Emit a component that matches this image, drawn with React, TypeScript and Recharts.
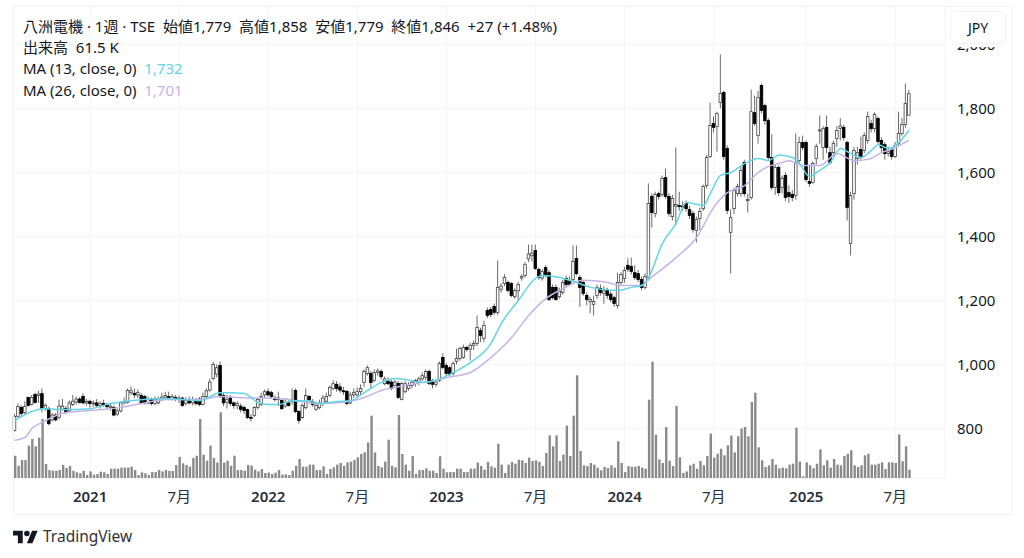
import { Bar, CartesianGrid, ComposedChart, Line, XAxis, YAxis } from "recharts"

const opens = [
  794, 838, 866, 850, 897, 875, 906, 903, 909, 862,
  862, 827, 842, 835, 860, 862, 855, 875, 883, 892,
  900, 880, 885, 878, 880, 872, 878, 873, 866, 866,
  845, 855, 880, 881, 912, 910, 905, 903, 900, 880,
  890, 878, 880, 892, 898, 900, 895, 897, 892, 895,
  878, 890, 880, 888, 892, 875, 900, 920, 956, 970,
  997, 903, 882, 897, 880, 872, 870, 866, 859, 835,
  841, 866, 875, 905, 915, 912, 895, 895, 888, 870,
  880, 885, 919, 853, 834, 865, 900, 885, 860, 865,
  878, 885, 903, 925, 938, 930, 918, 916, 880, 905,
  905, 915, 944, 972, 972, 950, 975, 978, 940, 948,
  945, 935, 941, 891, 915, 925, 935, 940, 945, 955,
  960, 978, 950, 938, 950, 1022, 997, 990, 972, 1010,
  1019, 1022, 1053, 1048, 1060, 1066, 1106, 1081, 1169, 1172,
  1181, 1163, 1235, 1253, 1256, 1253, 1212, 1230, 1270, 1278,
  1330, 1340, 1356, 1297, 1270, 1303, 1287, 1241, 1241, 1212,
  1225, 1269, 1262, 1266, 1331, 1272, 1256, 1216, 1197, 1188,
  1216, 1238, 1222, 1232, 1220, 1209, 1184, 1256, 1269, 1310,
  1306, 1287, 1284, 1266, 1241, 1269, 1525, 1472, 1534, 1531,
  1584, 1525, 1462, 1495, 1497, 1495, 1503, 1484, 1472, 1419,
  1456, 1487, 1559, 1650, 1753, 1744, 1819, 1850, 1675, 1413,
  1487, 1534, 1534, 1631, 1512, 1522, 1787, 1716, 1872, 1809,
  1762, 1647, 1553, 1616, 1553, 1591, 1537, 1531, 1528, 1637,
  1694, 1694, 1572, 1569, 1644, 1730, 1678, 1741, 1662, 1662,
  1706, 1738, 1741, 1694, 1378, 1534, 1644, 1672, 1669, 1700,
  1753, 1737, 1769, 1700, 1687, 1659, 1672, 1650, 1691, 1722,
  1750, 1779,
]
const closes = [
  838, 869, 847, 869, 872, 897, 881, 908, 862, 872,
  815, 842, 827, 870, 870, 850, 880, 885, 892, 881,
  880, 885, 878, 880, 872, 878, 873, 868, 870, 842,
  855, 880, 885, 919, 918, 905, 912, 878, 880, 890,
  878, 890, 892, 898, 903, 895, 900, 892, 895, 872,
  888, 880, 890, 878, 875, 900, 918, 945, 1000, 990,
  903, 880, 890, 878, 872, 878, 860, 856, 834, 832,
  866, 891, 900, 915, 905, 900, 890, 893, 862, 882,
  872, 890, 853, 825, 872, 903, 888, 875, 872, 880,
  895, 900, 928, 940, 925, 920, 915, 878, 905, 912,
  915, 925, 978, 990, 944, 975, 980, 962, 955, 940,
  925, 945, 897, 941, 940, 935, 945, 950, 955, 965,
  978, 941, 938, 945, 1003, 991, 972, 970, 1003, 1019,
  1050, 1053, 1047, 1060, 1066, 1116, 1091, 1122, 1153, 1156,
  1163, 1241, 1245, 1272, 1231, 1216, 1231, 1250, 1275, 1312,
  1345, 1348, 1300, 1272, 1290, 1280, 1203, 1209, 1203, 1228,
  1256, 1250, 1250, 1322, 1284, 1241, 1222, 1203, 1203, 1197,
  1240, 1225, 1230, 1216, 1203, 1191, 1256, 1281, 1294, 1298,
  1291, 1272, 1266, 1241, 1275, 1503, 1475, 1531, 1525, 1581,
  1525, 1472, 1519, 1500, 1495, 1492, 1487, 1466, 1422, 1453,
  1478, 1556, 1647, 1747, 1741, 1784, 1847, 1650, 1481, 1459,
  1544, 1556, 1606, 1534, 1516, 1790, 1753, 1834, 1794, 1762,
  1647, 1553, 1616, 1537, 1581, 1522, 1525, 1522, 1631, 1694,
  1678, 1578, 1566, 1628, 1681, 1733, 1737, 1678, 1631, 1691,
  1731, 1745, 1709, 1491, 1528, 1669, 1662, 1647, 1716, 1775,
  1737, 1781, 1697, 1678, 1659, 1665, 1650, 1684, 1722, 1750,
  1816, 1846,
]
const highs = [
  845, 878, 872, 885, 900, 905, 912, 918, 925, 878,
  868, 848, 848, 890, 892, 870, 888, 905, 900, 898,
  910, 893, 890, 888, 892, 885, 890, 880, 880, 872,
  862, 885, 897, 925, 931, 925, 922, 910, 905, 900,
  897, 900, 900, 912, 915, 915, 908, 905, 902, 900,
  898, 900, 900, 895, 898, 912, 925, 956, 1008, 1000,
  1010, 912, 905, 905, 885, 885, 878, 872, 862, 845,
  870, 895, 912, 922, 925, 918, 903, 915, 893, 895,
  888, 925, 925, 858, 878, 925, 905, 892, 880, 890,
  905, 912, 935, 950, 948, 942, 930, 920, 915, 925,
  928, 938, 985, 997, 980, 985, 988, 985, 962, 960,
  952, 952, 948, 945, 948, 945, 950, 955, 962, 975,
  985, 985, 955, 955, 1010, 1035, 1005, 995, 1010, 1050,
  1055, 1062, 1058, 1068, 1075, 1153, 1115, 1137, 1178, 1180,
  1190, 1325, 1255, 1282, 1262, 1258, 1238, 1258, 1282, 1320,
  1375, 1375, 1375, 1303, 1298, 1310, 1295, 1250, 1250, 1240,
  1265, 1278, 1275, 1372, 1372, 1280, 1262, 1225, 1212, 1215,
  1250, 1250, 1245, 1240, 1228, 1215, 1287, 1288, 1305, 1332,
  1334, 1310, 1295, 1275, 1285, 1566, 1535, 1540, 1540, 1590,
  1612, 1535, 1530, 1678, 1540, 1510, 1512, 1495, 1480, 1462,
  1490, 1562, 1655, 1819, 1775, 1790, 1969, 1855, 1685, 1485,
  1552, 1565, 1620, 1640, 1534, 1859, 1840, 1855, 1878, 1815,
  1770, 1720, 1625, 1622, 1590, 1600, 1560, 1545, 1722, 1712,
  1715, 1700, 1625, 1635, 1690, 1778, 1745, 1778, 1680, 1700,
  1745, 1770, 1750, 1700, 1540, 1680, 1680, 1712, 1725, 1790,
  1765, 1788, 1775, 1710, 1695, 1680, 1680, 1695, 1790, 1770,
  1878, 1858,
]
const lows = [
  790, 835, 840, 845, 868, 872, 878, 880, 850, 855,
  810, 822, 822, 828, 855, 845, 850, 870, 875, 878,
  875, 872, 865, 868, 865, 862, 868, 858, 855, 838,
  840, 850, 875, 878, 905, 895, 895, 875, 875, 875,
  872, 872, 875, 885, 890, 888, 888, 885, 880, 868,
  872, 875, 872, 872, 870, 872, 895, 915, 950, 960,
  895, 870, 862, 870, 862, 860, 850, 845, 830, 822,
  835, 860, 870, 895, 900, 895, 885, 870, 858, 865,
  868, 875, 848, 815, 830, 860, 880, 868, 855, 860,
  870, 880, 898, 920, 915, 912, 905, 872, 875, 895,
  898, 905, 930, 965, 925, 945, 965, 955, 935, 935,
  920, 930, 892, 888, 910, 918, 925, 930, 935, 948,
  950, 935, 925, 930, 945, 985, 965, 962, 965, 1000,
  1012, 1018, 1040, 1012, 1045, 1058, 1070, 1070, 1145, 1148,
  1155, 1155, 1225, 1245, 1225, 1210, 1205, 1197, 1262, 1272,
  1320, 1322, 1295, 1265, 1262, 1272, 1198, 1203, 1200, 1205,
  1218, 1240, 1245, 1258, 1278, 1180, 1215, 1185, 1160, 1153,
  1205, 1215, 1190, 1205, 1195, 1180, 1175, 1250, 1255, 1290,
  1282, 1265, 1258, 1232, 1235, 1262, 1428, 1460, 1515, 1525,
  1518, 1462, 1450, 1435, 1480, 1480, 1478, 1455, 1412, 1381,
  1420, 1480, 1550, 1645, 1725, 1665, 1800, 1640, 1470, 1284,
  1470, 1525, 1525, 1525, 1475, 1515, 1745, 1690, 1785, 1750,
  1640, 1545, 1530, 1528, 1535, 1510, 1505, 1510, 1515, 1630,
  1670, 1570, 1555, 1565, 1625, 1690, 1640, 1660, 1625, 1650,
  1680, 1700, 1700, 1450, 1341, 1515, 1625, 1640, 1660, 1690,
  1725, 1725, 1690, 1665, 1640, 1650, 1640, 1645, 1685, 1715,
  1740, 1779,
]
const volumes = [
  165, 91, 133, 133, 240, 289, 235, 299, 437, 104,
  59, 54, 54, 59, 96, 74, 89, 54, 42, 35,
  54, 22, 49, 25, 30, 47, 42, 30, 69, 69,
  69, 77, 77, 77, 84, 59, 22, 42, 35, 22,
  44, 44, 59, 49, 59, 52, 52, 96, 156, 109,
  96, 84, 148, 165, 437, 173, 128, 240, 148, 114,
  487, 114, 128, 91, 165, 59, 59, 54, 96, 91,
  62, 49, 67, 37, 40, 30, 40, 59, 25, 27,
  22, 54, 91, 141, 84, 84, 99, 99, 59, 59,
  86, 30, 67, 79, 99, 111, 91, 116, 121, 133,
  153, 178, 190, 264, 462, 190, 89, 79, 121, 284,
  91, 79, 467, 178, 99, 54, 163, 30, 59, 59,
  72, 54, 54, 37, 161, 69, 42, 44, 44, 69,
  69, 44, 44, 69, 69, 114, 89, 62, 119, 86,
  77, 254, 99, 37, 99, 119, 106, 136, 131, 111,
  151, 126, 131, 119, 89, 185, 316, 235, 316, 126,
  173, 388, 163, 462, 761, 200, 94, 89, 111, 99,
  77, 57, 82, 74, 94, 77, 272, 111, 44, 89,
  84, 84, 89, 77, 69, 580, 862, 321, 138, 111,
  378, 128, 89, 534, 153, 37, 49, 94, 106, 69,
  126, 94, 163, 329, 151, 180, 217, 168, 242, 314,
  190, 309, 366, 378, 309, 563, 632, 227, 131, 82,
  94, 141, 99, 72, 77, 72, 99, 106, 373, 121,
  12, 116, 94, 72, 106, 212, 94, 131, 77, 141,
  99, 94, 163, 180, 205, 94, 82, 94, 168, 180,
  99, 99, 106, 116, 67, 116, 116, 111, 323, 124,
  235, 61.5,
]

// moving averages at the weeks where the line is clear
const ma13Weeks = [0, 5, 8, 15, 22, 28, 34, 44, 54, 60, 63, 67, 71, 74, 77, 81, 86, 89, 94, 98, 102, 107, 111, 114, 119, 125, 128, 133, 139, 142, 147, 152, 154, 159, 164, 168, 176, 180, 183, 185, 189, 193, 196, 201, 203, 206, 209, 213, 217, 220, 223, 227, 229, 232, 234, 238, 241, 244, 247, 250, 252, 255, 257, 261]
const ma13Values = [825, 853, 862, 859, 862, 878, 887, 894, 887, 912, 912, 909, 881, 875, 875, 887, 887, 878, 884, 887, 912, 944, 956, 953, 944, 959, 975, 1006, 1066, 1128, 1200, 1269, 1278, 1272, 1256, 1241, 1231, 1241, 1247, 1272, 1378, 1441, 1506, 1497, 1534, 1591, 1600, 1628, 1644, 1637, 1655, 1647, 1628, 1587, 1600, 1631, 1675, 1659, 1647, 1669, 1687, 1675, 1684, 1732]
const ma26Weeks = [0, 3, 5, 8, 15, 22, 31, 37, 44, 54, 60, 67, 77, 82, 88, 95, 102, 107, 111, 117, 123, 126, 133, 139, 145, 150, 155, 160, 166, 173, 177, 183, 185, 193, 199, 204, 208, 213, 217, 220, 223, 226, 230, 235, 240, 245, 249, 253, 257, 261]
const ma26Values = [763, 772, 800, 819, 850, 856, 866, 878, 891, 891, 900, 896, 894, 887, 878, 881, 897, 919, 928, 941, 950, 959, 975, 1022, 1084, 1153, 1206, 1237, 1263, 1256, 1247, 1247, 1265, 1334, 1397, 1491, 1537, 1559, 1600, 1619, 1628, 1637, 1622, 1622, 1659, 1637, 1641, 1662, 1678, 1701]

const priceTicks = [800, 1000, 1200, 1400, 1600, 1800, 2000]
const timeTicks = [22, 48, 74, 100, 126, 152, 178, 204, 231, 257]
const timeLabels = ["2021", "7月", "2022", "7月", "2023", "7月", "2024", "7月", "2025", "7月"]
const emptyWeeksRight = 10

const rows = Array.from({ length: opens.length + emptyWeeksRight }, (_, i) => {
  const m13 = ma13Weeks.indexOf(i)
  const m26 = ma26Weeks.indexOf(i)
  return {
    week: i,
    open: opens[i],
    close: closes[i],
    range: i < opens.length ? [lows[i], highs[i]] : null,
    volume: volumes[i] ?? null,
    ma13: m13 >= 0 ? ma13Values[m13] : null,
    ma26: m26 >= 0 ? ma26Values[m26] : null,
  }
})

const Candle = (props: any) => {
  const { x, y, width, height, payload } = props
  if (!payload.range) return null
  const [low, high] = payload.range
  const perUnit = height / (high - low)
  const cx = x + width / 2
  const up = payload.close >= payload.open
  const top = y + (high - Math.max(payload.open, payload.close)) * perUnit
  const bodyH = Math.max(Math.abs(payload.close - payload.open) * perUnit, 1)
  return (
    <g>
      <line x1={cx} x2={cx} y1={y} y2={y + height} stroke="#444" strokeWidth={0.8} />
      <rect
        x={cx - 1.3}
        y={top}
        width={2.6}
        height={bodyH}
        fill={up ? "#fff" : "#000"}
        stroke={up ? "#444" : "#000"}
        strokeWidth={0.8}
      />
    </g>
  )
}

const TimeTick = (props: any) => {
  const { x, y, payload } = props
  const label = timeLabels[timeTicks.indexOf(payload.value)]
  return (
    <text
      x={x}
      y={y + 16}
      textAnchor="middle"
      fontSize={15}
      fontWeight={label.length === 4 ? 600 : 400}
      fill="#2a2e39"
    >
      {label}
    </text>
  )
}

const fontStack = '"Noto Sans", "Noto Sans CJK JP", sans-serif'
const legendLine: React.CSSProperties = {
  position: "absolute",
  left: 23,
  fontSize: 15,
  lineHeight: "18px",
  color: "#131722",
  whiteSpace: "pre",
}

export default function App() {
  return (
    <div style={{ position: "absolute", left: 0, top: 0, width: 1024, height: 558, background: "#fff", fontFamily: fontStack, overflow: "hidden" }}>
      <ComposedChart
        width={1024}
        height={558}
        data={rows}
        margin={{ top: 6, right: 13, bottom: 44, left: 13 }}
        barCategoryGap={0}
      >
        <CartesianGrid xAxisId="time" yAxisId="price" stroke="#f3f4f7" strokeWidth={1} />
        <XAxis
          xAxisId="time"
          dataKey="week"
          ticks={timeTicks}
          interval={0}
          height={36}
          tick={TimeTick}
          tickLine={false}
          axisLine={false}
        />
        <XAxis xAxisId="vol" dataKey="week" hide />
        <YAxis
          yAxisId="price"
          orientation="right"
          width={66}
          domain={[645.3, 2120.3]}
          allowDataOverflow
          ticks={priceTicks}
          tickFormatter={(v: number) => v.toLocaleString("en-US")}
          tick={{ fontSize: 15, fill: "#131722", textAnchor: "start" }}
          tickLine={false}
          axisLine={false}
          tickMargin={6}
        />
        <YAxis yAxisId="vol" hide domain={[0, 3497]} />
        <Bar xAxisId="vol" yAxisId="vol" dataKey="volume" fill="#8a8a8a" barSize={2.4} isAnimationActive={false} />
        <Line xAxisId="time" yAxisId="price" dataKey="ma26" type="monotone" connectNulls stroke="#c5b3e8" strokeWidth={1.5} dot={false} isAnimationActive={false} />
        <Line xAxisId="time" yAxisId="price" dataKey="ma13" type="monotone" connectNulls stroke="#62d6e6" strokeWidth={1.5} dot={false} isAnimationActive={false} />
        <Bar xAxisId="time" yAxisId="price" dataKey="range" shape={Candle} isAnimationActive={false} />
      </ComposedChart>

      <div style={{ position: "absolute", left: 13, top: 6, width: 998, height: 507, border: "1px solid #f3f4f7", pointerEvents: "none" }} />
      <div style={{ position: "absolute", left: 946, top: 7, width: 64, height: 40, background: "#fff" }} />
      <div style={{ position: "absolute", left: 950, top: 11, width: 54, height: 31, border: "1px solid #f0f1f4", borderRadius: 6, background: "#fff", color: "#131722", fontSize: 14, lineHeight: "31px", textAlign: "center" }}>
        JPY
      </div>

      <div style={{ ...legendLine, top: 17 }}>八洲電機 · 1週 · TSE  始値1,779  高値1,858  安値1,779  終値1,846  +27 (+1.48%)</div>
      <div style={{ ...legendLine, top: 38 }}>出来高  61.5 K</div>
      <div style={{ ...legendLine, top: 59 }}>
        MA (13, close, 0)  <span style={{ color: "#62d6e6" }}>1,732</span>
      </div>
      <div style={{ ...legendLine, top: 81 }}>
        MA (26, close, 0)  <span style={{ color: "#c5b3e8" }}>1,701</span>
      </div>

      <svg style={{ position: "absolute", left: 13, top: 528 }} width={25} height={18} viewBox="0 0 36 26">
        <path d="M14 22H7V11H0V4h14v18zM28 22h-8l7.5-18h8L28 22z" fill="#131722" />
        <circle cx={20} cy={8} r={4} fill="#131722" />
      </svg>
      <div style={{ position: "absolute", left: 43, top: 525, fontSize: 15.5, lineHeight: "22px", color: "#333" }}>TradingView</div>
    </div>
  )
}
